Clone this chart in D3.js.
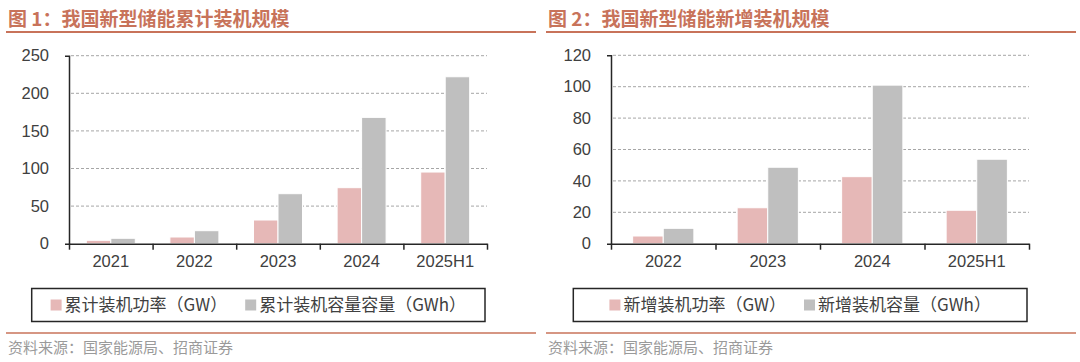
<!DOCTYPE html>
<html>
<head>
<meta charset="utf-8">
<script src="https://cdn.jsdelivr.net/npm/d3@7"></script>
<style>
  body { margin: 0; background: #fff; }
  svg { display: block; }
</style>
</head>
<body>
<svg id="chart"></svg>
<script>
// chart data
const cumYears = ["2021", "2022", "2023", "2024", "2025H1"];
const cumPowerGW = [4.5, 8.9, 31.5, 74.5, 95.3];
const cumCapacityGWh = [7.2, 17.3, 66.5, 168, 222];
const cumTicks = [0, 50, 100, 150, 200, 250];

const newYears = ["2022", "2023", "2024", "2025H1"];
const newPowerGW = [4.9, 22.9, 42.7, 21.3];
const newCapacityGWh = [9.8, 48.7, 101, 53.8];
const newTicks = [0, 20, 40, 60, 80, 100, 120];

const pink = "#e6b8b7";
const gray = "#bfbfbf";
const accent = "#c8735a";
const cjk = "'Noto Sans CJK SC', 'Noto Sans', sans-serif";
const latin = "'Liberation Sans', Arial, sans-serif";

const svg = d3.select("#chart").attr("width", 1080).attr("height", 362);

function drawPanel(cfg) {
  const g = svg.append("g").attr("transform", `translate(${cfg.x0},0)`);

  // title + rules
  g.append("text")
    .attr("x", 8).attr("y", 26)
    .attr("fill", accent)
    .attr("font-family", cjk)
    .attr("font-weight", "bold")
    .attr("font-size", 19)
    .text(cfg.title);
  g.append("line").attr("x1", 6).attr("x2", 536).attr("y1", 32).attr("y2", 32)
    .attr("stroke", accent).attr("stroke-width", 2);
  g.append("line").attr("x1", 6).attr("x2", 536).attr("y1", 333).attr("y2", 333)
    .attr("stroke", accent).attr("stroke-width", 1.5);
  g.append("text")
    .attr("x", 8).attr("y", 353)
    .attr("fill", "#9a9a9a")
    .attr("font-family", cjk)
    .attr("font-size", 15)
    .text("资料来源：国家能源局、招商证券");

  const left = cfg.plotLeft, right = cfg.plotRight, top = cfg.plotTop, bottom = 243.7;
  const w = right - left, h = bottom - top;
  const chart = g.append("g").attr("transform", `translate(${left},${top})`);

  const x = d3.scaleBand().domain(cfg.cats).range([0, w])
    .paddingInner(0.414).paddingOuter(0.207);
  const xs = d3.scaleBand().domain(["p", "c"]).range([0, x.bandwidth()]);
  const y = d3.scaleLinear().domain([0, d3.max(cfg.ticks)]).range([h, 0]);

  // gridlines
  chart.selectAll(".grid").data(cfg.ticks.filter(t => t > 0)).join("line")
    .attr("class", "grid")
    .attr("x1", 2).attr("x2", w)
    .attr("y1", d => y(d)).attr("y2", d => y(d))
    .attr("stroke", "#a6a6a6").attr("stroke-width", 1)
    .attr("stroke-dasharray", "3,2");

  // bars
  const rows = cfg.cats.map((c, i) => ({ cat: c, p: cfg.power[i], c: cfg.cap[i] }));
  const grp = chart.selectAll(".bar-group").data(rows).join("g")
    .attr("class", "bar-group")
    .attr("transform", d => `translate(${x(d.cat)},0)`);
  grp.selectAll("rect").data(d => [["p", d.p], ["c", d.c]]).join("rect")
    .attr("x", d => xs(d[0]))
    .attr("width", xs.bandwidth())
    .attr("y", d => y(d[1]))
    .attr("height", d => h - y(d[1]))
    .attr("fill", d => d[0] === "p" ? pink : gray)
    .attr("stroke", "#fff").attr("stroke-width", 1);

  // y axis
  const yAxis = chart.append("g")
    .call(d3.axisLeft(y).tickValues(cfg.ticks).tickSizeInner(0).tickSizeOuter(4).tickPadding(20));
  yAxis.select(".domain").attr("stroke", "#262626").attr("stroke-width", 1.5);
  yAxis.selectAll("text").attr("font-family", latin).attr("font-size", 16.5).attr("fill", "#404040");

  // x axis labels
  const xAxis = chart.append("g").attr("transform", `translate(0,${h})`)
    .call(d3.axisBottom(x).tickSize(0).tickPadding(12));
  xAxis.select(".domain").remove();
  xAxis.selectAll("text").attr("font-family", latin).attr("font-size", 16.5).attr("fill", "#404040");

  // x axis line with boundary ticks
  const xb = d3.scaleLinear().domain([0, cfg.cats.length]).range([0, w]);
  const xTicks = chart.append("g").attr("transform", `translate(0,${h})`)
    .call(d3.axisBottom(xb).ticks(cfg.cats.length).tickFormat("").tickSize(6).tickSizeOuter(0));
  xTicks.selectAll("line, path").attr("stroke", "#262626").attr("stroke-width", 1.5);

  // legend
  const lg = g.append("g");
  lg.append("rect")
    .attr("x", cfg.legendX0).attr("y", 288.5)
    .attr("width", cfg.legendX1 - cfg.legendX0).attr("height", 33)
    .attr("fill", "none").attr("stroke", "#262626").attr("stroke-width", 1.5);
  const items = lg.append("g");
  let cx = 0;
  cfg.legend.forEach((name, i) => {
    const it = items.append("g").attr("transform", `translate(${cx},0)`);
    it.append("rect").attr("x", 0).attr("y", 299.5).attr("width", 11).attr("height", 11)
      .attr("fill", i === 0 ? pink : gray);
    const t = it.append("text").attr("x", 14).attr("y", 311)
      .attr("font-family", cjk).attr("font-size", 17).attr("fill", "#404040")
      .text(name);
    cx += 14 + t.node().getComputedTextLength() + 18;
  });
  const bb = items.node().getBBox();
  const mid = (cfg.legendX0 + cfg.legendX1) / 2;
  items.attr("transform", `translate(${mid - bb.width / 2},0)`);
}

drawPanel({
  x0: 0,
  title: "图 1：我国新型储能累计装机规模",
  cats: cumYears, power: cumPowerGW, cap: cumCapacityGWh, ticks: cumTicks,
  plotLeft: 69, plotRight: 487, plotTop: 55.7,
  legendX0: 31.7, legendX1: 485,
  legend: ["累计装机功率（GW）", "累计装机容量容量（GWh）"]
});

drawPanel({
  x0: 540,
  title: "图 2：我国新型储能新增装机规模",
  cats: newYears, power: newPowerGW, cap: newCapacityGWh, ticks: newTicks,
  plotLeft: 71, plotRight: 489, plotTop: 55.3,
  legendX0: 33.3, legendX1: 487,
  legend: ["新增装机功率（GW）", "新增装机容量（GWh）"]
});
</script>
</body>
</html>
